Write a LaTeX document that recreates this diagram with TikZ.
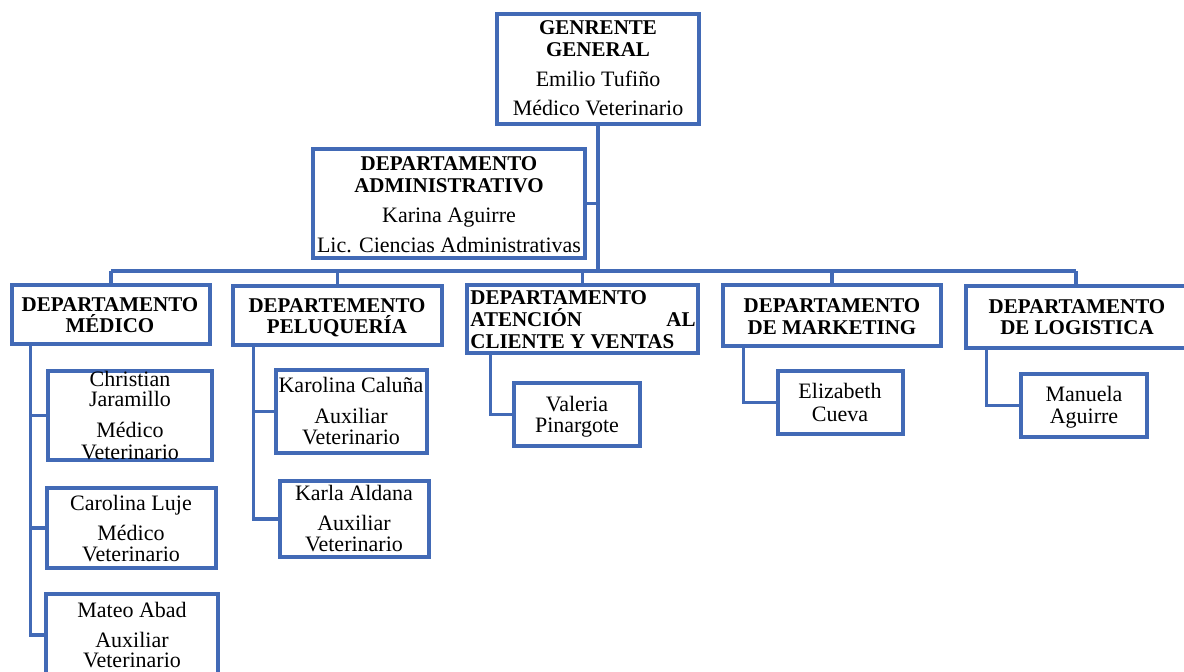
\documentclass[tikz,border=0pt]{standalone}
\usepackage{fontspec}
\setmainfont{LiberationSerif}[Extension=.ttf, UprightFont=*-Regular, BoldFont=*-Bold, ItalicFont=*-Italic, BoldItalicFont=*-BoldItalic]
\usetikzlibrary{fit}
\definecolor{orgblue}{RGB}{66,106,182}
\begin{document}
\begin{tikzpicture}[x=0.5pt,y=-0.5pt,
  orgbox/.style={draw=orgblue, line width=1.6pt, inner sep=0pt, fill=white},
  hd/.style={font=\bfseries\fontsize{10.5}{12}\selectfont, anchor=base, inner sep=0pt},
  tx/.style={font=\fontsize{11}{13}\selectfont, anchor=base, inner sep=0pt},
  link/.style={draw=orgblue, line width=1.6pt}]
\useasboundingbox (0,0) rectangle (1184,672);
\clip (0,0) rectangle (1184,672);

% ---------- boxes ----------
\node[orgbox, fit={(497,14)(699,124)}] (gg) {};
\node[orgbox, fit={(313,149)(585,258)}] (da) {};

\node[orgbox, fit={(12,285)(210,344)}] (med) {};
\node[orgbox, fit={(233,286)(442,345)}] (pel) {};
\node[orgbox, fit={(467,285)(698,353)}] (ate) {};
\node[orgbox, fit={(723,285)(941,346)}] (mkt) {};
\node[orgbox, fit={(966,286)(1186,348)}] (log) {};

\node[orgbox, fit={(48,371)(212,460)}] (m1) {};
\node[orgbox, fit={(47,488)(216,568)}] (m2) {};
\node[orgbox, fit={(46,594)(218,676)}] (m3) {};

\node[orgbox, fit={(276,370)(427,453)}] (p1) {};
\node[orgbox, fit={(280,481)(429,557)}] (p2) {};

\node[orgbox, fit={(514,383)(640,446)}] (v1) {};
\node[orgbox, fit={(778,371)(903,434)}] (k1) {};
\node[orgbox, fit={(1021,374)(1147,437)}] (l1) {};

% ---------- connectors ----------
\coordinate (bus) at (0,271);
\draw[link] (gg.south) -- (gg.south |- bus);
\draw[link] (da.east) -- (da.east -| gg.south);
\draw[link] (med.north |- bus) -- (log.north |- bus);
\foreach \d in {med,pel,ate,mkt,log}
  \draw[link] (\d.north) -- (\d.north |- bus);

\draw[link] ([xshift=10pt]med.south west) |- (m1.west);
\draw[link] ([xshift=10pt]med.south west) |- (m2.west);
\draw[link] ([xshift=10pt]med.south west) |- (m3.west);
\draw[link] ([xshift=11pt]pel.south west) |- (p1.west);
\draw[link] ([xshift=11pt]pel.south west) |- (p2.west);
\draw[link] ([xshift=12.5pt]ate.south west) |- (v1.west);
\draw[link] ([xshift=11pt]mkt.south west) |- (k1.west);
\draw[link] ([xshift=11pt]log.south west) |- (l1.west);

% ---------- texts ----------
\node[hd] (gg1) at (598,35) {GENRENTE};
\node[hd] (gg2) at (598,57) {GENERAL};
\node[tx] (gg3) at (598,87) {Emilio Tufiño};
\node[tx] (gg4) at (598,116) {Médico Veterinario};

\node[hd] (da1) at (449,171) {DEPARTAMENTO};
\node[hd] (da2) at (449,193) {ADMINISTRATIVO};
\node[tx] (da3) at (449,223) {Karina Aguirre};
\node[tx] (da4) at (449,253) {Lic. Ciencias Administrativas};

\node[hd] (med1) at (110,312) {DEPARTAMENTO};
\node[hd] (med2) at (110,333) {MÉDICO};

\node[hd] (pel1) at (337,313) {DEPARTEMENTO};
\node[hd] (pel2) at (337,334) {PELUQUERÍA};

\node[hd, anchor=base west] (ate1) at (470,305) {DEPARTAMENTO};
\node[hd, anchor=base west] (ate2) at (470,327) {ATENCIÓN};
\node[hd, anchor=base east] (ate3) at (696,327) {AL};
\node[hd, anchor=base west] (ate4) at (470,349) {CLIENTE Y VENTAS};

\node[hd] (mkt1) at (832,313) {DEPARTAMENTO};
\node[hd] (mkt2) at (832,335) {DE MARKETING};

\node[hd] (log1) at (1077,314) {DEPARTAMENTO};
\node[hd] (log2) at (1077,335) {DE LOGISTICA};

\node[tx] (m1a) at (130,387) {Christian};
\node[tx] (m1b) at (130,407) {Jaramillo};
\node[tx] (m1c) at (130,438) {Médico};
\node[tx] (m1d) at (130,460) {Veterinario};

\node[tx] (m2a) at (131,511) {Carolina Luje};
\node[tx] (m2b) at (131,541) {Médico};
\node[tx] (m2c) at (131,562) {Veterinario};

\node[tx] (m3a) at (132,618) {Mateo Abad};
\node[tx] (m3b) at (132,648) {Auxiliar};
\node[tx] (m3c) at (132,668) {Veterinario};

\node[tx] (p1a) at (351,393) {Karolina Caluña};
\node[tx] (p1b) at (351,424) {Auxiliar};
\node[tx] (p1c) at (351,445) {Veterinario};

\node[tx] (p2a) at (354,501) {Karla Aldana};
\node[tx] (p2b) at (354,531) {Auxiliar};
\node[tx] (p2c) at (354,552) {Veterinario};

\node[tx] (v1a) at (577,412) {Valeria};
\node[tx] (v1b) at (577,433) {Pinargote};

\node[tx] (k1a) at (840,399) {Elizabeth};
\node[tx] (k1b) at (840,422) {Cueva};

\node[tx] (l1a) at (1084,402) {Manuela};
\node[tx] (l1b) at (1084,424) {Aguirre};
\end{tikzpicture}
\end{document}
